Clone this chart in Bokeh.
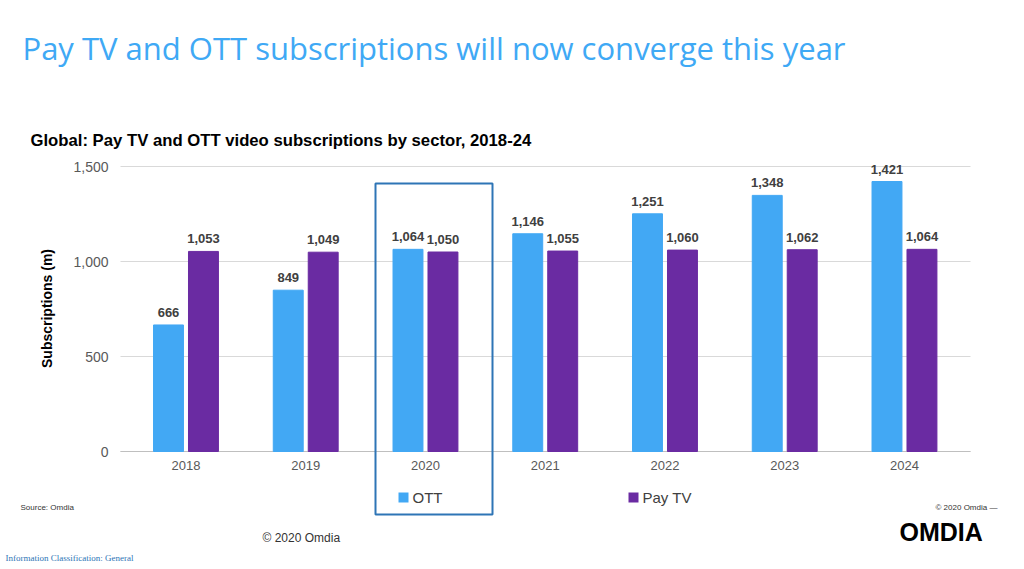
import numpy as np
from bokeh.plotting import figure
from bokeh.models import ColumnDataSource, Range1d
from bokeh.core.properties import value
from bokeh.embed import file_html
from bokeh.resources import INLINE

years = ["2018", "2019", "2020", "2021", "2022", "2023", "2024"]
ott = [666, 849, 1064, 1146, 1251, 1348, 1421]
paytv = [1053, 1049, 1050, 1055, 1060, 1062, 1064]
yticks = [0, 500, 1000, 1500]

W, H = 1016, 562
XL = 125.6          # canvas x of category axis start
PXU = 119.75        # px per category
PYU = 285 / 1500.0  # px per unit (0 at y=451)
x0 = -XL / PXU
x1 = x0 + W / PXU
y0 = -(H - 451) / PYU
y1 = y0 + H / PYU

def dx(px):
    return (px - XL) / PXU

def dy(py):
    return (451 - py) / PYU

p = figure(width=W, height=H, x_range=Range1d(x0, x1), y_range=Range1d(y0, y1),
           output_backend="svg", toolbar_location=None, min_border=0)
p.axis.visible = False
p.grid.visible = False
p.outline_line_color = None

xc = np.arange(len(years)) + 0.5
off = 0.146
src = ColumnDataSource(dict(xo=xc - off, xp=xc + off, xc=xc, years=years, ott=ott, paytv=paytv,
                            ol=[f"{v:,}" for v in ott], pl=[f"{v:,}" for v in paytv]))

FONT = value("Liberation Sans")
p.segment(x0=dx(120), x1=dx(970), y0=yticks, y1=yticks, line_color="#D9D9D9", line_width=1)
p.segment(x0=[dx(120)], x1=[dx(970)], y0=[0], y1=[0], line_color="#BFBFBF", line_width=1)

OTT_C = "#42A8F4"
PAY_C = "#6A2BA2"
p.vbar(x="xo", top="ott", width=0.25, source=src, color=OTT_C)
p.vbar(x="xp", top="paytv", width=0.25, source=src, color=PAY_C)
kw = dict(text_align="center", text_baseline="bottom", y_offset=-8, text_font_size="13px",
          text_font_style="bold", text_color="#404040", text_font=FONT)
p.text(x="xo", y="ott", text="ol", source=src, **kw)
p.text(x="xp", y="paytv", text="pl", source=src, **kw)

p.text(x="xc", y=0, text="years", source=src, text_align="center", text_baseline="top", y_offset=9,
       text_font_size="13px", text_color="#595959", text_font=FONT)
p.text(x=[dx(108)] * 4, y=yticks, text=[f"{v:,}" for v in yticks], text_align="right",
       text_baseline="middle", text_font_size="14px", text_color="#595959", text_font=FONT)
p.text(x=[dx(46)], y=[dy(308)], text=["Subscriptions (m)"], angle=np.pi / 2, text_align="center",
       text_baseline="middle", text_font_size="14px", text_font_style="bold", text_color="black",
       text_font=FONT)

def lab(x, y, t, size, color="black", bold=False, font="Liberation Sans"):
    p.text(x=[dx(x)], y=[dy(y)], text=[t], text_font_size=size, text_color=color,
           text_font=value(font), text_font_style="bold" if bold else "normal", text_baseline="middle")

lab(22, 47, "Pay TV and OTT subscriptions will now converge this year", "31px", "#3FA9F5", font="Open Sans")
lab(30, 140, "Global: Pay TV and OTT video subscriptions by sector, 2018-24", "16.7px", "black", bold=True)
lab(20, 507, "Source: Omdia", "8px", "#333333")
lab(262, 537, "© 2020 Omdia", "12px", "#333333")
lab(5, 557, "Information Classification: General", "9px", "#2E75B6", font="Liberation Serif")
lab(935, 507, "© 2020 Omdia —", "8px", "#333333")
lab(899, 531, "OMDIA", "25px", "black", bold=True)
lab(412, 497, "OTT", "15px", "#404040")
lab(642, 497, "Pay TV", "15px", "#404040")

p.quad(left=[dx(375)], right=[dx(492)], top=[dy(183)], bottom=[dy(514)],
       fill_alpha=0, line_color="#2E75B6", line_width=2)
p.quad(left=[dx(398), dx(628)], right=[dx(408), dx(638)], top=[dy(492)] * 2, bottom=[dy(502)] * 2,
       fill_color=[OTT_C, PAY_C], line_color=None)

open("out.html", "w").write(file_html(p, INLINE))
